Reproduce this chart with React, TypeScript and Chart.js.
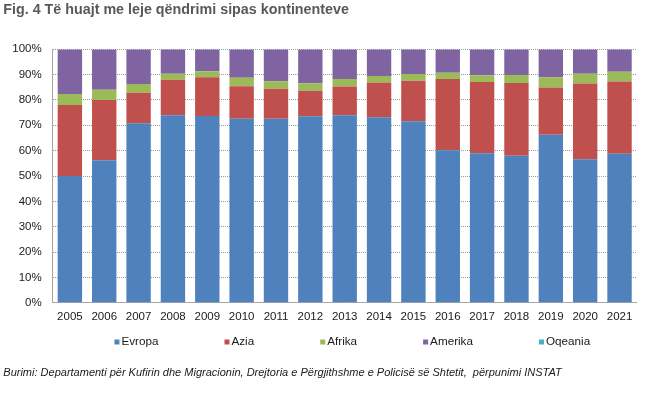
import React, { useEffect, useRef } from "react";
import { Chart, registerables } from "chart.js";

Chart.register(...registerables);

const years = ["2005","2006","2007","2008","2009","2010","2011","2012","2013","2014","2015","2016","2017","2018","2019","2020","2021"];
const evropa = [50.0, 56.2, 70.8, 74.0, 73.7, 72.6, 72.6, 73.6, 74.0, 73.2, 71.6, 60.2, 59.0, 58.0, 66.3, 56.6, 58.8];
const azia = [28.0, 23.8, 12.1, 14.0, 15.3, 12.8, 11.8, 10.0, 11.3, 13.7, 16.0, 28.1, 28.1, 28.7, 18.6, 29.9, 28.5];
const afrika = [4.4, 4.0, 3.4, 2.4, 2.3, 3.4, 3.0, 3.0, 3.0, 2.6, 2.7, 2.4, 2.7, 3.2, 4.1, 3.9, 3.8];
const amerika = [17.5, 15.9, 13.6, 9.5, 8.6, 11.1, 12.5, 13.3, 11.6, 10.4, 9.6, 9.2, 10.1, 10.0, 10.9, 9.5, 8.8];
const oqeania = [0.1, 0.1, 0.1, 0.1, 0.1, 0.1, 0.1, 0.1, 0.1, 0.1, 0.1, 0.1, 0.1, 0.1, 0.1, 0.1, 0.1];
const yTicks = [0, 10, 20, 30, 40, 50, 60, 70, 80, 90, 100];

const FONT = '"Liberation Sans", Arial, sans-serif';

const legendPlugin = {
  id: "wideLegend",
  afterDraw(chart: any) {
    const ctx = chart.ctx;
    const area = chart.chartArea;
    ctx.save();
    ctx.font = `11.7px ${FONT}`;
    ctx.textBaseline = "middle";
    ctx.textAlign = "left";
    const items = chart.data.datasets.map((d: any) => ({
      label: d.label,
      color: d.backgroundColor,
      w: 5 + 2 + ctx.measureText(d.label).width,
    }));
    const gap = 66;
    const total = items.reduce((s: number, it: any) => s + it.w, 0) + gap * (items.length - 1);
    const center = (area.left + area.right) / 2 + 7.6;
    let x = center - total / 2;
    const y = area.bottom + 39.3;
    items.forEach((it: any) => {
      ctx.fillStyle = it.color;
      ctx.fillRect(x, y - 2.5, 5, 5);
      ctx.fillStyle = "#1a1a1a";
      ctx.fillText(it.label, x + 7, y);
      x += it.w + gap;
    });
    ctx.restore();
  },
};

export default function App() {
  const ref = useRef<HTMLCanvasElement>(null);
  useEffect(() => {
    if (!ref.current) return;
    const chart = new Chart(ref.current, {
      type: "bar",
      data: {
        labels: years,
        datasets: [
          { label: "Evropa", data: evropa, backgroundColor: "#4F81BD" },
          { label: "Azia", data: azia, backgroundColor: "#C0504D" },
          { label: "Afrika", data: afrika, backgroundColor: "#9BBB59" },
          { label: "Amerika", data: amerika, backgroundColor: "#8064A2" },
          { label: "Oqeania", data: oqeania, backgroundColor: "#4BACC6" },
        ],
      },
      options: {
        responsive: false,
        animation: false,
        layout: { padding: { left: 3.3, right: 15.3, top: 0, bottom: 0 } },
        datasets: { bar: { categoryPercentage: 1, barPercentage: 0.71, borderWidth: 0 } },
        scales: {
          x: {
            stacked: true,
            grid: { display: false, drawTicks: false },
            border: { display: true, color: "#a6a6a6", width: 1 },
            ticks: { color: "#1a1a1a", font: { family: FONT, size: 11.5 }, padding: 7, maxRotation: 0, autoSkip: false },
            afterFit: (s: any) => { s.height = 63.4; },
          },
          y: {
            stacked: true,
            min: 0,
            max: 100,
            afterBuildTicks: (s: any) => { s.ticks = yTicks.map((v) => ({ value: v })); },
            grid: { color: "#9a9a9a", lineWidth: 1, drawTicks: false },
            border: { display: true, color: "#a6a6a6", width: 1, dash: [1, 1] },
            ticks: {
              color: "#1a1a1a",
              font: { family: FONT, size: 11.5 },
              padding: 11,
              callback: (v: any) => v + "%",
            },
            afterFit: (s: any) => { s.width = 49.4; },
          },
        },
        plugins: {
          legend: { display: false },
          tooltip: { enabled: false },
          title: {
            display: true,
            text: "Fig. 4 Të huajt me leje qëndrimi sipas kontinenteve",
            align: "start",
            color: "#595959",
            font: { family: FONT, size: 14.3, weight: "bold" },
            padding: { top: 1.7, bottom: 30.44 },
          },
          subtitle: {
            display: true,
            position: "bottom",
            text: "Burimi: Departamenti për Kufirin dhe Migracionin, Drejtoria e Përgjithshme e Policisë së Shtetit,  përpunimi INSTAT",
            align: "start",
            color: "#1a1a1a",
            font: { family: FONT, size: 11, style: "italic" },
            padding: { top: 0, bottom: 16.7 },
          },
        },
      },
      plugins: [legendPlugin],
    });
    return () => chart.destroy();
  }, []);
  return (
    <div style={{ position: "fixed", left: 0, top: 0, width: 652, height: 396, background: "#fff" }}>
      <canvas ref={ref} width={652} height={396} style={{ width: 652, height: 396, display: "block" }} />
    </div>
  );
}
